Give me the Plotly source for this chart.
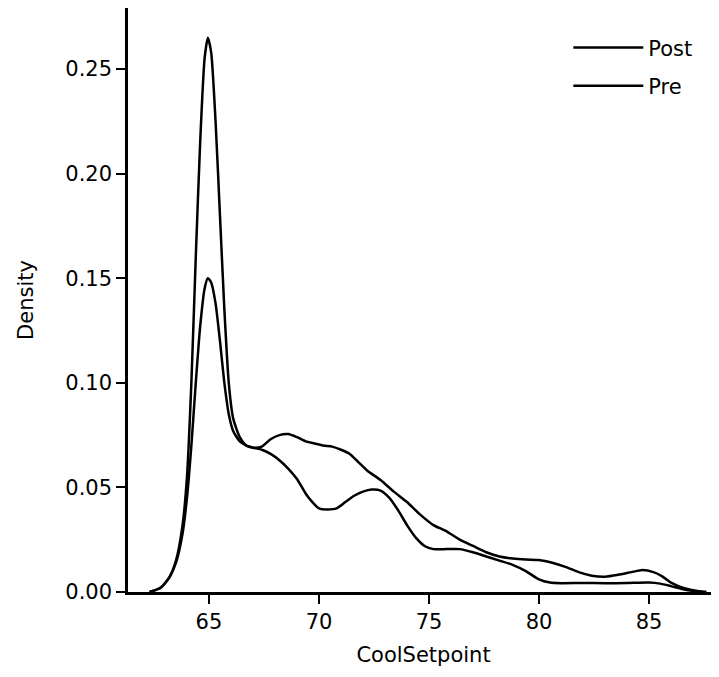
import plotly.graph_objects as go

# CoolSetpoint grid and density readings
post_x = [62.3, 62.8, 63.2, 63.5, 63.8, 64.0, 64.2, 64.4, 64.6, 64.8, 64.95, 65.1, 65.3, 65.5, 65.7,
          65.9, 66.1, 66.4, 66.7, 67.0, 67.4, 67.8, 68.2, 68.6, 69.0, 69.4, 69.8, 70.2, 70.6, 71.0,
          71.4, 71.8, 72.2, 72.8, 73.4, 74.0, 74.6, 75.2, 75.8, 76.4, 77.0, 77.6, 78.2, 78.8, 79.4,
          80.0, 80.6, 81.2, 81.8, 82.4, 83.0, 83.6, 84.2, 84.7, 85.2, 85.6, 86.0, 86.6, 87.2, 87.6]
post_y = [0.0, 0.002, 0.007, 0.014, 0.028, 0.045, 0.07, 0.10, 0.127, 0.145, 0.150, 0.148, 0.138, 0.12, 0.10,
          0.085, 0.077, 0.072, 0.070, 0.069, 0.0695, 0.073, 0.075, 0.0755, 0.074, 0.072, 0.071, 0.070, 0.0695, 0.068,
          0.066, 0.062, 0.058, 0.0535, 0.048, 0.043, 0.037, 0.032, 0.029, 0.025, 0.022, 0.019, 0.017, 0.016, 0.0155,
          0.0153, 0.014, 0.012, 0.0095, 0.0078, 0.0073, 0.0082, 0.0095, 0.0105, 0.0095, 0.0075, 0.0045, 0.0018, 0.0005, 0.0]

pre_x = [62.3, 62.8, 63.2, 63.5, 63.8, 64.0, 64.2, 64.4, 64.6, 64.8, 64.95, 65.1, 65.3, 65.5, 65.7,
         65.9, 66.1, 66.4, 66.7, 67.0, 67.4, 67.8, 68.2, 68.6, 69.0, 69.4, 69.7, 70.0, 70.4, 70.8,
         71.2, 71.6, 72.0, 72.4, 72.8, 73.2, 73.6, 74.0, 74.4, 74.8, 75.2, 75.8, 76.4, 77.0, 77.6,
         78.2, 78.8, 79.4, 80.0, 80.5, 81.0, 82.0, 83.0, 84.0, 85.0, 85.5, 86.0, 86.6, 87.2, 87.6]
pre_y = [0.0, 0.002, 0.007, 0.015, 0.032, 0.055, 0.10, 0.16, 0.215, 0.255, 0.265, 0.258, 0.225, 0.18, 0.135,
         0.10, 0.083, 0.074, 0.070, 0.069, 0.068, 0.066, 0.063, 0.059, 0.054, 0.047, 0.043, 0.040, 0.0395, 0.040,
         0.043, 0.046, 0.048, 0.049, 0.0485, 0.045, 0.039, 0.032, 0.026, 0.022, 0.0205, 0.0205, 0.0205, 0.019, 0.017,
         0.015, 0.013, 0.010, 0.006, 0.0045, 0.0042, 0.0043, 0.0042, 0.0043, 0.0045, 0.004, 0.0028, 0.0012, 0.0003, 0.0]

x_ticks = [65, 70, 75, 80, 85]
y_ticks = [0.00, 0.05, 0.10, 0.15, 0.20, 0.25]
y_tick_text = ["0.00", "0.05", "0.10", "0.15", "0.20", "0.25"]

FONT = "DejaVu Sans"

fig = go.Figure()
fig.add_trace(go.Scatter(x=post_x, y=post_y, mode="lines", name="Post", legendgroup="post",
                         line=dict(color="black", width=2.5, shape="spline", smoothing=0.6)))
fig.add_trace(go.Scatter(x=pre_x, y=pre_y, mode="lines", name="Pre", legendgroup="pre",
                         line=dict(color="black", width=2.5, shape="spline", smoothing=0.6)))

fig.update_layout(
    width=719, height=677,
    margin=dict(l=120, r=8, t=0, b=93),
    paper_bgcolor="white", plot_bgcolor="white",
    font=dict(family=FONT, size=21, color="black"),
    showlegend=True,
    legend=dict(x=0.745, y=0.967, xanchor="left", yanchor="top",
                bgcolor="rgba(0,0,0,0)", font=dict(size=21),
                tracegroupgap=8, itemwidth=70),
    xaxis=dict(range=[61.32, 88.18], tickvals=x_ticks, showgrid=False, zeroline=False,
               showline=True, linecolor="black", linewidth=2.5, mirror=False,
               ticks="outside", ticklen=9, tickwidth=1.5, tickcolor="black",
               title=dict(text="CoolSetpoint", standoff=15, font=dict(size=21))),
    yaxis=dict(range=[0, 0.2792], tickvals=y_ticks, ticktext=y_tick_text, showgrid=False, zeroline=False,
               showline=True, linecolor="black", linewidth=2.5, mirror=False,
               ticks="outside", ticklen=9, tickwidth=1.5, tickcolor="black",
               title=dict(text="Density", standoff=26, font=dict(size=21))),
)

fig.write_html("out.html")
